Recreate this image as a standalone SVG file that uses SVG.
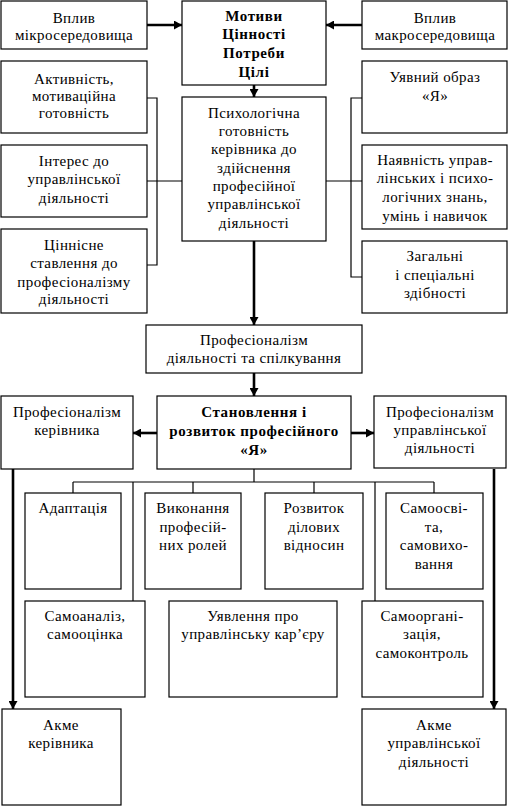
<svg xmlns="http://www.w3.org/2000/svg" width="508" height="807" viewBox="0 0 508 807">
<style>
rect{fill:#fff;stroke:#000;stroke-width:1.2}
text{font-family:"Liberation Serif","Times New Roman",serif;font-size:15px;text-anchor:middle;fill:#000;letter-spacing:0.4px}
.b{font-weight:bold;letter-spacing:0.6px}
.t{fill:none;stroke:#000;stroke-width:1.2}
.k{fill:none;stroke:#000;stroke-width:2.6;marker-end:url(#ah)}
</style>
<defs>
<marker id="ah" markerUnits="userSpaceOnUse" markerWidth="9" markerHeight="9" refX="8" refY="4.5" orient="auto">
<path d="M0,0 L8,4.5 L0,9 z" fill="#000"/>
</marker>
</defs>
<rect x="0" y="0" width="508" height="807" style="stroke:none"/>
<g id="connectors">
<line class="k" x1="147" y1="25" x2="182" y2="25"/>
<line class="k" x1="362" y1="25" x2="326" y2="25"/>
<line class="k" x1="254" y1="85" x2="254" y2="97"/>
<line class="k" x1="254" y1="241" x2="254" y2="325"/>
<line class="k" x1="254" y1="373" x2="254" y2="396"/>
<line class="k" x1="157" y1="433" x2="133" y2="433"/>
<line class="k" x1="351" y1="433" x2="374" y2="433"/>
<line class="k" x1="13" y1="469" x2="13" y2="709"/>
<line class="k" x1="494" y1="469" x2="494" y2="709"/>
<polyline class="t" points="147,98 157,98 157,265 147,265"/>
<line class="t" x1="147" y1="181" x2="182" y2="181"/>
<polyline class="t" points="362,98 351,98 351,277 362,277"/>
<line class="t" x1="326" y1="181" x2="362" y2="181"/>
<line class="t" x1="254" y1="469" x2="254" y2="482"/>
<line class="t" x1="73" y1="482" x2="434" y2="482"/>
<line class="t" x1="73" y1="482" x2="73" y2="493"/>
<line class="t" x1="193" y1="482" x2="193" y2="493"/>
<line class="t" x1="314" y1="482" x2="314" y2="493"/>
<line class="t" x1="434" y1="482" x2="434" y2="493"/>
<line class="t" x1="133" y1="482" x2="133" y2="601"/>
<line class="t" x1="375" y1="482" x2="375" y2="601"/>
</g>
<g id="micro"><rect x="1" y="1" width="146" height="48"/>
<text x="74" y="23">Вплив</text><text x="74" y="40">мікросередовища</text></g>
<g id="motives"><rect x="182" y="1" width="144" height="84"/>
<text class="b" x="254" y="21">Мотиви</text><text class="b" x="254" y="39">Цінності</text><text class="b" x="254" y="58">Потреби</text><text class="b" x="254" y="77">Цілі</text></g>
<g id="macro"><rect x="362" y="1" width="145" height="48"/>
<text x="435" y="23">Вплив</text><text x="435" y="40">макросередовища</text></g>
<g id="activity"><rect x="1" y="61" width="146" height="72"/>
<text x="74" y="84">Активність,</text><text x="74" y="101">мотиваційна</text><text x="74" y="118">готовність</text></g>
<g id="image"><rect x="362" y="61" width="145" height="72"/>
<text x="435" y="82">Уявний образ</text><text x="435" y="101">«Я»</text></g>
<g id="psych"><rect x="182" y="97" width="144" height="144"/>
<text x="254" y="118">Психологічна</text><text x="254" y="136">готовність</text><text x="254" y="154">керівника до</text><text x="254" y="173">здійснення</text><text x="254" y="191">професійної</text><text x="254" y="209">управлінської</text><text x="254" y="228">діяльності</text></g>
<g id="interest"><rect x="1" y="145" width="146" height="72"/>
<text x="74" y="166">Інтерес до</text><text x="74" y="184">управлінської</text><text x="74" y="203">діяльності</text></g>
<g id="knowledge"><rect x="362" y="145" width="145" height="84"/>
<text x="435" y="165">Наявність управ-</text><text x="435" y="183">лінських і психо-</text><text x="435" y="202">логічних знань,</text><text x="435" y="221">умінь і навичок</text></g>
<g id="value"><rect x="1" y="229" width="146" height="84"/>
<text x="74" y="250">Ціннісне</text><text x="74" y="268">ставлення до</text><text x="74" y="287">професіоналізму</text><text x="74" y="304">діяльності</text></g>
<g id="abilities"><rect x="362" y="241" width="145" height="72"/>
<text x="435" y="261">Загальні</text><text x="435" y="280">і спеціальні</text><text x="435" y="298">здібності</text></g>
<g id="prof"><rect x="146" y="325" width="216" height="48"/>
<text x="254" y="345">Професіоналізм</text><text x="254" y="363">діяльності та спілкування</text></g>
<g id="manager"><rect x="1" y="396" width="132" height="73"/>
<text x="67" y="417">Професіоналізм</text><text x="67" y="435">керівника</text></g>
<g id="formation"><rect x="157" y="396" width="194" height="73"/>
<text class="b" x="254" y="417">Становлення і</text><text class="b" x="254" y="436">розвиток професійного</text><text class="b" x="254" y="455">«Я»</text></g>
<g id="mgmt"><rect x="374" y="396" width="132" height="72"/>
<text x="440" y="417">Професіоналізм</text><text x="440" y="435">управлінської</text><text x="440" y="453">діяльності</text></g>
<g id="adapt"><rect x="25" y="493" width="96" height="96"/>
<text x="73" y="513">Адаптація</text></g>
<g id="roles"><rect x="145" y="493" width="96" height="96"/>
<text x="193" y="513">Виконання</text><text x="193" y="532">професій-</text><text x="193" y="550">них ролей</text></g>
<g id="relations"><rect x="265" y="493" width="98" height="96"/>
<text x="314" y="513">Розвиток</text><text x="314" y="532">ділових</text><text x="314" y="550">відносин</text></g>
<g id="selfedu"><rect x="386" y="493" width="97" height="96"/>
<text x="434" y="513">Самоосві-</text><text x="434" y="532">та,</text><text x="434" y="550">самовихо-</text><text x="434" y="569">вання</text></g>
<g id="selfanalysis"><rect x="25" y="601" width="120" height="96"/>
<text x="85" y="621">Самоаналіз,</text><text x="85" y="639">самооцінка</text></g>
<g id="career"><rect x="169" y="601" width="168" height="96"/>
<text x="253" y="621">Уявлення про</text><text x="253" y="639">управлінську кар’єру</text></g>
<g id="selforg"><rect x="362" y="601" width="121" height="96"/>
<text x="422" y="621">Самооргані-</text><text x="422" y="639">зація,</text><text x="422" y="658">самоконтроль</text></g>
<g id="acme1"><rect x="2" y="709" width="119" height="96"/>
<text x="61" y="730">Акме</text><text x="61" y="748">керівника</text></g>
<g id="acme2"><rect x="362" y="709" width="144" height="96"/>
<text x="434" y="730">Акме</text><text x="434" y="748">управлінської</text><text x="434" y="767">діяльності</text></g>
</svg>
